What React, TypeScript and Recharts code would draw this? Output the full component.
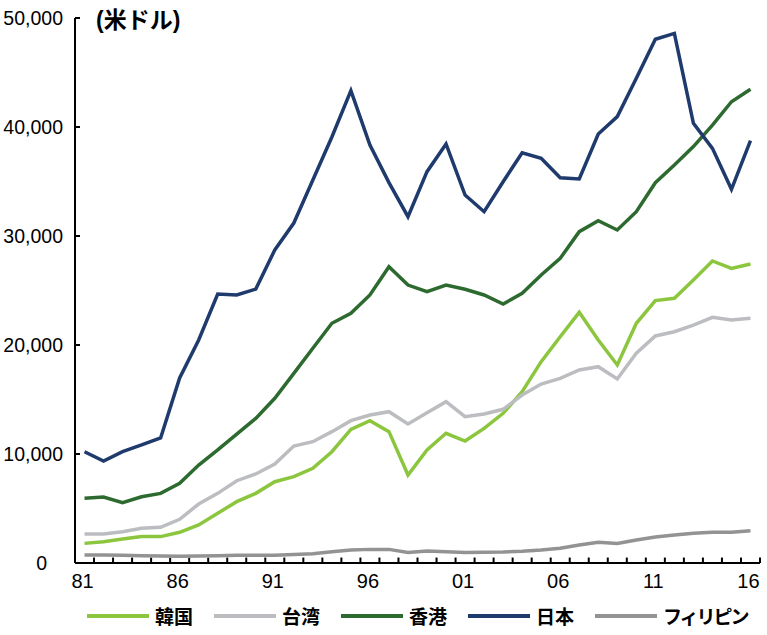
import { Line, LineChart, ReferenceLine, XAxis, YAxis } from "recharts";

const years = [
  1981, 1982, 1983, 1984, 1985, 1986, 1987, 1988, 1989, 1990, 1991, 1992,
  1993, 1994, 1995, 1996, 1997, 1998, 1999, 2000, 2001, 2002, 2003, 2004,
  2005, 2006, 2007, 2008, 2009, 2010, 2011, 2012, 2013, 2014, 2015, 2016,
];

const korea = [
  1800, 1960, 2200, 2420, 2420, 2820, 3490, 4560, 5630, 6390, 7460, 7920,
  8690, 10210, 12260, 13060, 12050, 8070, 10370, 11900, 11190, 12350, 13730,
  15720, 18470, 20760, 23000, 20460, 18170, 21990, 24070, 24280, 25960, 27710,
  27030, 27430,
];

const taiwan = [
  2660, 2660, 2870, 3180, 3270, 4010, 5410, 6390, 7550, 8170, 9080, 10730,
  11130, 12050, 13060, 13580, 13880, 12750, 13790, 14800, 13420, 13670, 14100,
  15410, 16420, 16940, 17710, 18010, 16880, 19240, 20830, 21220, 21830, 22540,
  22290, 22450,
];

const hongKong = [
  5930, 6050, 5530, 6080, 6390, 7310, 8990, 10370, 11830, 13270, 15110, 17400,
  19700, 21990, 22910, 24590, 27180, 25500, 24890, 25500, 25110, 24590, 23760,
  24740, 26420, 27950, 30400, 31410, 30550, 32230, 34890, 36510, 38200, 40180,
  42320, 43460,
];

const japan = [
  10210, 9360, 10210, 10830, 11470, 16970, 20460, 24680, 24590, 25130, 28720,
  31190, 35140, 39080, 43330, 38350, 34900, 31770, 35900, 38440, 33760, 32230,
  34980, 37640, 37130, 35350, 35230, 39360, 40950, 44470, 48050, 48590, 40340,
  38040, 34280, 38740,
];

const philippines = [
  730, 730, 700, 670, 640, 620, 640, 670, 700, 700, 700, 790, 850, 1040, 1190,
  1250, 1250, 960, 1100, 1040, 960, 990, 1010, 1070, 1190, 1350, 1650, 1900,
  1800, 2110, 2390, 2570, 2720, 2820, 2820, 2960,
];

const yTicks = [0, 10000, 20000, 30000, 40000, 50000];
const labelYears = [1981, 1986, 1991, 1996, 2001, 2006, 2011, 2016];
const unitLabel = "(米ドル)";

const series = [
  { key: "korea", name: "韓国", color: "#8cc63f", values: korea },
  { key: "taiwan", name: "台湾", color: "#bcbdc0", values: taiwan },
  { key: "hongKong", name: "香港", color: "#2d6a2f", values: hongKong },
  { key: "japan", name: "日本", color: "#1f3a6c", values: japan },
  { key: "philippines", name: "フィリピン", color: "#939393", values: philippines },
];

const data = years.map((year, i) => {
  const row: Record<string, number> = { year };
  series.forEach((s) => {
    row[s.key] = s.values[i];
  });
  return row;
});

// small tick marks sit between the years, labels at the years
const boundaries = [...years.map((y) => y - 0.5), years[years.length - 1] + 0.5];

const NUM_FONT = "'Liberation Sans', Arial, sans-serif";
const JP_FONT = "'Liberation Sans', 'Noto Sans CJK JP', sans-serif";
const AXIS_X = 75;

function XTick(props: any) {
  const { x, payload } = props;
  const v = payload.value as number;
  return (
    <text x={x - 2} y={581} textAnchor="middle" dominantBaseline="central" fontSize={20} fontFamily={NUM_FONT} fill="#000">
      {String(v % 100).padStart(2, "0")}
    </text>
  );
}

function YTick(props: any) {
  const { y, payload } = props;
  const v = payload.value as number;
  return (
    <g>
      <line x1={AXIS_X} x2={AXIS_X + 5} y1={y} y2={y} stroke="#000" strokeWidth={2} />
      <text
        x={v === 0 ? 47 : 63}
        y={y}
        textAnchor="end"
        dominantBaseline="central"
        fontSize={19.5}
        fontFamily={NUM_FONT}
        fill="#000"
      >
        {v.toLocaleString("en-US")}
      </text>
    </g>
  );
}

function Overlay() {
  return (
    <svg
      width={767}
      height={635}
      style={{ position: "absolute", left: 0, top: 0, pointerEvents: "none" }}
    >
      <text x={96} y={20} dominantBaseline="central" fontSize={23} fontWeight="bold" fontFamily={JP_FONT} fill="#000">
        {unitLabel}
      </text>
      {series.map((s, i) => {
        const x0 = 87 + i * 127;
        return (
          <g key={s.key}>
            <line x1={x0} x2={x0 + 62} y1={616} y2={616} stroke={s.color} strokeWidth={4} />
            <text
              x={x0 + 68}
              y={617}
              dominantBaseline="central"
              fontSize={19}
              fontWeight="bold"
              fontFamily={JP_FONT}
              letterSpacing={s.name.length > 2 ? -2 : 0}
              fill="#000"
            >
              {s.name}
            </text>
          </g>
        );
      })}
    </svg>
  );
}

export default function App() {
  return (
    <div style={{ position: "absolute", left: 0, top: 0, width: 767, height: 635, background: "#fff" }}>
      <LineChart width={767} height={635} data={data} margin={{ top: 18, right: 7, bottom: 0, left: 0 }}>
        <XAxis
          dataKey="year"
          type="number"
          domain={[boundaries[0], boundaries[boundaries.length - 1]]}
          ticks={labelYears}
          interval={0}
          tick={<XTick />}
          tickLine={false}
          axisLine={{ stroke: "#000", strokeWidth: 2 }}
          height={72}
        />
        <YAxis
          type="number"
          domain={[0, 50000]}
          ticks={yTicks}
          interval={0}
          tick={<YTick />}
          tickLine={false}
          axisLine={{ stroke: "#000", strokeWidth: 2 }}
          width={75}
        />
        {boundaries.slice(1).map((b) => (
          <ReferenceLine
            key={b}
            segment={[
              { x: b, y: 0 },
              { x: b, y: 500 },
            ]}
            stroke="#000"
            strokeWidth={2}
            ifOverflow="visible"
          />
        ))}
        {series.map((s) => (
          <Line
            key={s.key}
            dataKey={s.key}
            stroke={s.color}
            strokeWidth={3.5}
            dot={false}
            type="linear"
            isAnimationActive={false}
          />
        ))}
      </LineChart>
      <Overlay />
    </div>
  );
}
